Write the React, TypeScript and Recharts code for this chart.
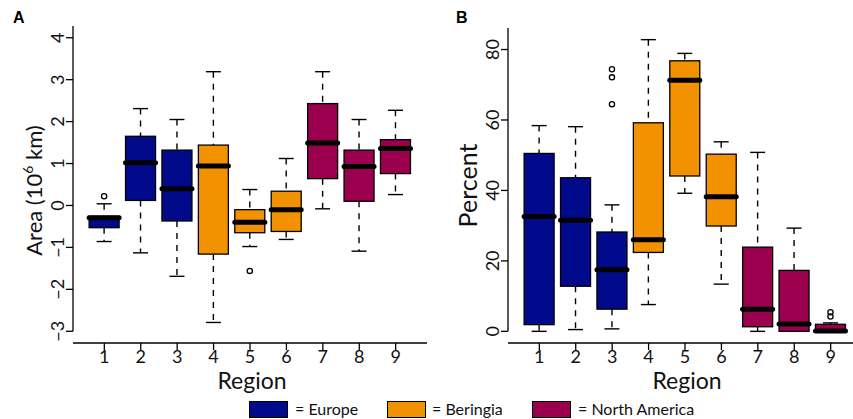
import React from "react";
import { ComposedChart, Bar, XAxis, YAxis, ReferenceLine } from "recharts";

const regions = [1, 2, 3, 4, 5, 6, 7, 8, 9];
const regionGroups = [
  "Europe", "Europe", "Europe",
  "Beringia", "Beringia", "Beringia",
  "North America", "North America", "North America",
];

// panel A - area (10^6 km)
const areaMin = [-0.86, -1.13, -1.69, -2.79, -0.98, -0.81, -0.08, -1.09, 0.26];
const areaQ1 = [-0.53, 0.12, -0.37, -1.16, -0.65, -0.62, 0.64, 0.1, 0.76];
const areaMedian = [-0.29, 1.02, 0.4, 0.94, -0.4, -0.1, 1.49, 0.93, 1.36];
const areaQ3 = [-0.26, 1.65, 1.32, 1.44, -0.1, 0.34, 2.43, 1.32, 1.57];
const areaMax = [0.04, 2.31, 2.05, 3.19, 0.38, 1.12, 3.19, 2.05, 2.27];
const areaOutliers = [[0.22], [], [], [], [-1.56], [], [], [], []];
const areaTicks = [-3, -2, -1, 0, 1, 2, 3, 4];

// panel B - percent
const pctMin = [0, 0.5, 0.7, 7.6, 39.2, 13.4, 0, 0, 0];
const pctQ1 = [1.9, 12.8, 6.3, 22.4, 44.1, 29.9, 1.3, 0, 0];
const pctMedian = [32.6, 31.5, 17.5, 26.0, 71.3, 38.2, 6.3, 2.1, 0.1];
const pctQ3 = [50.5, 43.6, 28.2, 59.2, 76.8, 50.3, 23.9, 17.3, 2.0];
const pctMax = [58.4, 58.1, 35.9, 82.8, 78.9, 53.8, 50.8, 29.3, 2.4];
const pctOutliers = [[], [], [74.4, 72.1, 64.5], [], [], [], [], [], [5.4, 4.2]];
const pctTicks = [0, 20, 40, 60, 80];

const groupColors: Record<string, string> = {
  Europe: "#000A8B",
  Beringia: "#F29200",
  "North America": "#9A004E",
};

const FONT = "Lato, 'Open Sans', sans-serif";

type BoxRow = {
  region: number;
  group: string;
  min: number;
  q1: number;
  median: number;
  q3: number;
  max: number;
  outliers: number[];
};

function buildRows(
  mins: number[], q1s: number[], meds: number[], q3s: number[], maxs: number[], outs: number[][]
): BoxRow[] {
  return regions.map((r, i) => ({
    region: r,
    group: regionGroups[i],
    min: mins[i],
    q1: q1s[i],
    median: meds[i],
    q3: q3s[i],
    max: maxs[i],
    outliers: outs[i],
  }));
}

const areaRows = buildRows(areaMin, areaQ1, areaMedian, areaQ3, areaMax, areaOutliers);
const pctRows = buildRows(pctMin, pctQ1, pctMedian, pctQ3, pctMax, pctOutliers);

// the bar spans min..max, so the box parts are placed along that same scale
const BoxShape = (props: any) => {
  const { x, y, width, height, payload } = props;
  const d: BoxRow = payload;
  const toY = (v: number) => y + ((d.max - v) / (d.max - d.min)) * height;
  const cx = x + width / 2;
  const cap = width / 4;
  return (
    <g>
      <line x1={cx} x2={cx} y1={toY(d.max)} y2={toY(d.q3)} stroke="#000" strokeWidth={1.4} strokeDasharray="6 6" />
      <line x1={cx} x2={cx} y1={toY(d.q1)} y2={toY(d.min)} stroke="#000" strokeWidth={1.4} strokeDasharray="6 6" />
      <line x1={cx - cap} x2={cx + cap} y1={toY(d.max)} y2={toY(d.max)} stroke="#000" strokeWidth={1.4} />
      <line x1={cx - cap} x2={cx + cap} y1={toY(d.min)} y2={toY(d.min)} stroke="#000" strokeWidth={1.4} />
      <rect
        x={x}
        y={toY(d.q3)}
        width={width}
        height={toY(d.q1) - toY(d.q3)}
        fill={groupColors[d.group]}
        stroke="#000"
        strokeWidth={1.3}
      />
      <line
        x1={x}
        x2={x + width}
        y1={toY(d.median)}
        y2={toY(d.median)}
        stroke="#000"
        strokeWidth={5}
        strokeLinecap="round"
      />
      {d.outliers.map((o, i) => (
        <circle key={i} cx={cx} cy={toY(o)} r={2.6} fill="none" stroke="#000" strokeWidth={1.3} />
      ))}
    </g>
  );
};

const fmt = (v: number) => (v < 0 ? "\u2212" + Math.abs(v) : String(v));

const RotatedTick = (props: any) => {
  const { x, y, payload } = props;
  return (
    <text
      transform={`translate(${x},${y}) rotate(-90)`}
      textAnchor="middle"
      fontSize={18}
      fontFamily={FONT}
      fill="#111"
    >
      {fmt(payload.value)}
    </text>
  );
};

const RegionTitle = (props: any) => {
  const vb = props.viewBox || { x: 73, y: 343, width: 354, height: 30 };
  return (
    <text
      x={vb.x + vb.width / 2 + 2}
      y={vb.y + 46}
      textAnchor="middle"
      fontSize={23}
      fontFamily={FONT}
      fill="#111"
    >
      Region
    </text>
  );
};

const AreaTitle = (props: any) => {
  const vb = props.viewBox || { x: 0, y: 26, width: 73, height: 317 };
  const cy = vb.y + vb.height / 2 + 6;
  return (
    <text
      transform={`translate(${vb.x + 42},${cy}) rotate(-90)`}
      textAnchor="middle"
      fontSize={22}
      fontFamily={FONT}
      fill="#111"
    >
      Area (10
      <tspan fontSize={14} dy={-9}>6</tspan>
      <tspan dy={9}> km)</tspan>
    </text>
  );
};

const PercentTitle = (props: any) => {
  const vb = props.viewBox || { x: 0, y: 28, width: 72, height: 315 };
  const cy = vb.y + vb.height / 2;
  return (
    <text
      transform={`translate(${vb.x + 41},${cy}) rotate(-90)`}
      textAnchor="middle"
      fontSize={25}
      fontFamily={FONT}
      fill="#111"
    >
      Percent
    </text>
  );
};

const tickStyle = { fontSize: 18, fontFamily: FONT, fill: "#111" };
const axisStroke = { stroke: "#000", strokeWidth: 1.3 };

type PanelProps = {
  rows: BoxRow[];
  yDomain: [number, number];
  yTicks: number[];
  yAxisWidth: number;
  top: number;
  right: number;
  title: React.ReactElement;
};

function BoxPanel({ rows, yDomain, yTicks, yAxisWidth, top, right, title }: PanelProps) {
  return (
    <ComposedChart
      width={430}
      height={400}
      data={rows}
      margin={{ top, right, bottom: 27, left: 0 }}
    >
      <XAxis
        dataKey="region"
        type="number"
        domain={[0.14, 9.86]}
        ticks={regions}
        height={30}
        tickSize={7}
        tickMargin={0}
        tick={tickStyle}
        axisLine={axisStroke}
        tickLine={axisStroke}
        label={<RegionTitle />}
      />
      <YAxis
        type="number"
        domain={yDomain}
        ticks={yTicks}
        width={yAxisWidth}
        allowDataOverflow
        tickSize={7}
        tickMargin={2}
        tick={<RotatedTick />}
        axisLine={false}
        tickLine={axisStroke}
        label={title}
      />
      <ReferenceLine
        segment={[
          { x: 0.14, y: yDomain[1] },
          { x: 0.14, y: yTicks[0] },
        ]}
        stroke="#000"
        strokeWidth={1.3}
      />
      <Bar
        dataKey={(d: BoxRow) => [d.min, d.max]}
        barSize={30}
        shape={<BoxShape />}
        isAnimationActive={false}
      />
    </ComposedChart>
  );
}

const legendItems = [
  { name: "Europe", swatchLeft: 249, textLeft: 295 },
  { name: "Beringia", swatchLeft: 387, textLeft: 432 },
  { name: "North America", swatchLeft: 532, textLeft: 578 },
];

const letterStyle: React.CSSProperties = {
  position: "absolute",
  top: 9,
  fontSize: 16,
  fontWeight: 700,
  fontFamily: "Arial, 'Liberation Sans', sans-serif",
};

export default function App() {
  return (
    <div style={{ position: "fixed", left: 0, top: 0, width: 853, height: 419, background: "#fff", overflow: "hidden", fontFamily: FONT }}>
      <div style={{ position: "absolute", left: 0, top: 0 }}>
        <BoxPanel
          rows={areaRows}
          yDomain={[-3.28, 4.28]}
          yTicks={areaTicks}
          yAxisWidth={73}
          top={26}
          right={3}
          title={<AreaTitle />}
        />
      </div>
      <div style={{ position: "absolute", left: 436, top: 0 }}>
        <BoxPanel
          rows={pctRows}
          yDomain={[-3.31, 86.11]}
          yTicks={pctTicks}
          yAxisWidth={72}
          top={28}
          right={4}
          title={<PercentTitle />}
        />
      </div>
      <div style={{ ...letterStyle, left: 13 }}>A</div>
      <div style={{ ...letterStyle, left: 456 }}>B</div>
      {legendItems.map((it) => (
        <React.Fragment key={it.name}>
          <div
            style={{
              position: "absolute",
              left: it.swatchLeft,
              top: 401,
              width: 39,
              height: 17,
              boxSizing: "border-box",
              border: "1px solid #000",
              background: groupColors[it.name],
            }}
          />
          <div style={{ position: "absolute", left: it.textLeft, top: 399, fontSize: 16, lineHeight: "20px", color: "#111" }}>
            = {it.name}
          </div>
        </React.Fragment>
      ))}
    </div>
  );
}
